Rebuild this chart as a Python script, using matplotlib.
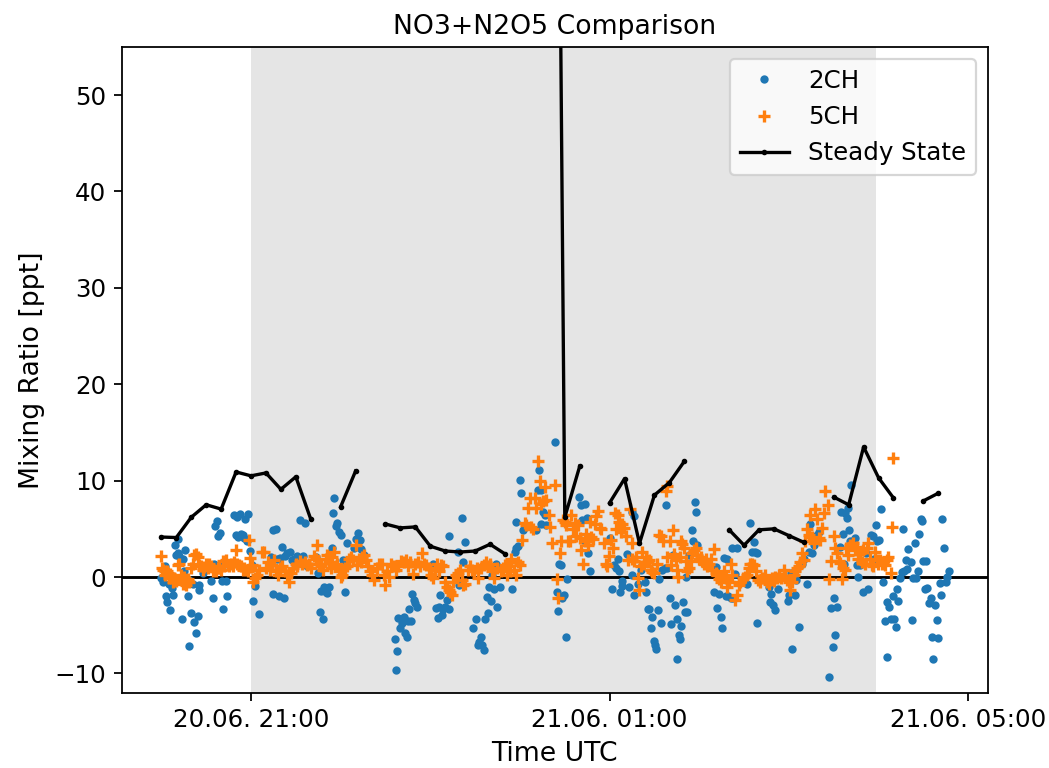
import numpy as np
import pandas as pd
import matplotlib
matplotlib.use("Agg")
import matplotlib.pyplot as plt
import matplotlib.dates as mdates

t0 = pd.Timestamp("2021-06-20 20:00")

# 2CH: minutes after 20:00 UTC, mixing ratio [ppt]
t_2ch = [-0.2, 0.9, 2.1, 3.2, 3.8, 5.0, 5.8, 7.2, 8.1, 9.2, 9.9, 11.0, 11.2, 12.1, 13.2, 13.9, 14.3, 15.4, 16.1, 17.0,
         18.1, 18.8, 18.8, 19.9, 21.0, 22.1, 23.2, 24.3, 25.0, 25.4, 27.7, 33.2, 34.4, 35.0, 36.1, 37.0, 37.7, 39.3, 40.6, 41.0,
         41.5, 43.3, 43.9, 48.8, 50.0, 50.4, 51.5, 52.6, 53.3, 54.4, 55.1, 56.0, 57.1, 57.8, 59.3, 60.7, 61.5, 62.9, 65.1,
         73.6, 74.9, 76.5, 74.9, 77.6, 78.7, 79.4, 81.0, 82.1, 82.5, 84.3, 86.1, 87.6, 88.8, 91.0, 92.8, 93.2, 95.0, 95.9, 97.2,
         103.2, 104.8, 106.1, 107.0, 107.9, 108.8, 109.9, 111.0, 112.1, 113.9, 114.8, 115.5, 116.6, 117.7, 118.8, 119.9, 121.7,
         122.6, 124.0, 128.9, 130.0, 131.5, 132.9, 133.8, 135.5,
         156.1, 157.0, 157.6, 158.7, 159.9, 161.0, 162.1, 162.8, 164.3, 165.4, 165.9, 167.2, 167.7, 168.8, 169.9, 171.0,
         182.1, 183.7, 185.0, 185.9, 186.8, 187.7, 188.8, 189.9, 191.0, 192.2, 192.8, 198.8, 199.3, 201.1, 201.7, 202.9,
         208.9, 210.4, 211.8, 212.7, 213.8, 214.4, 215.6, 216.7, 217.8, 218.9, 219.3, 220.7, 221.6, 222.9, 223.8, 224.5,
         226.5, 235.0, 236.5, 237.6, 238.8, 237.6, 239.9, 241.0, 242.1, 251.0, 252.8, 252.1, 254.4, 255.5, 256.6, 254.4, 257.7,
         263.3, 266.2, 267.7, 264.8, 269.3, 268.4, 265.7, 270.6, 271.7, 279.5, 281.1, 283.3, 281.8, 284.9, 283.3, 285.5, 287.1,
         300.0, 301.8, 302.7, 304.0,
         305.3, 306.4, 307.1, 308.0, 308.6, 311.5, 313.1, 314.7, 316.4, 315.3, 316.4, 318.7, 320.9, 322.0, 323.6, 324.2, 325.4,
         326.5, 327.6, 328.7, 329.4, 330.3, 330.9, 332.5, 333.2, 334.3, 335.4, 336.9, 337.6, 338.7, 340.5, 341.4, 342.7, 343.6,
         345.0, 345.4, 346.5, 347.2, 348.1, 349.4, 350.3, 351.0, 351.6, 353.2, 355.4, 356.1, 357.2, 358.1, 358.8,
         369.9, 371.0, 372.1, 373.3, 374.4, 375.5, 376.6, 377.7, 378.8, 379.3, 381.1, 382.2, 382.8,
         384.2, 385.3, 392.0, 394.2, 395.3, 396.5, 397.6, 398.7, 398.7, 406.5, 407.6, 408.3, 409.2, 410.5, 412.7, 419.4, 420.3,
         421.6, 422.1, 423.9, 424.8, 426.5, 428.8, 429.9, 432.1, 433.2, 434.3, 435.4, 436.6, 437.7, 438.8, 439.9,
         447.0, 448.4, 449.3, 450.1, 451.0, 452.2, 454.4, 455.1, 455.9, 456.6, 457.7, 458.8, 459.5, 460.4, 461.1, 461.7,
         464.2, 465.3, 466.4, 467.6, 469.3, 471.6, 473.1, 474.7, 476.0, 476.9, 478.3, 479.1, 480.5, 481.4, 483.2, 484.3, 485.4,
         485.8, 487.2, 488.1, 489.4, 490.3, 491.6, 492.5, 493.2, 494.3, 495.4, 496.5, 497.0, 498.3, 499.2, 499.9, 501.4, 502.1,
         503.2, 504.3, 505.0, 506.5, 507.2, 508.1, 509.4, 509.9, 511.0, 511.7, 512.6, 513.9, 514.8, 516.1, 516.6, 517.7, 518.8,
         519.9, 521.0, 522.1, 522.8, 523.7, 525.0, 525.9, 527.0]
v_2ch = [-0.1, -0.5, 1.1, -2.0, -2.6, -0.7, -3.4, -1.1, -1.9, 3.3, 2.3, 3.9, 2.5, 2.2, 1.9, -4.3, 1.9, 0.6, 2.8, -0.3,
         -2.0, -7.2, -0.3, -3.7, -0.7, -4.7, -5.8, -4.0, -1.3, -0.8, 0.4, -0.4, -2.2, 1.4, 5.3, 5.8, 4.3, 4.6, -0.4, -3.3,
         1.3, -0.4, -2.0, 6.4, 4.4, 6.2, 4.2, 6.5, 4.5, 4.4, 4.0, 6.0, 3.7, 6.5, 2.7, 1.3, -2.5, -0.9, -3.8,
         2.1, 4.9, 5.0, -1.8, 1.9, -2.0, 2.0, 3.1, -2.2, 2.2, 2.5, 2.6, 1.8, 1.9, 2.2, 5.9, 2.0, 2.2, 5.6, 1.1,
         2.1, 0.4, -3.6, -1.4, -4.3, -1.0, -1.5, -1.7, -1.0, 3.0, 6.6, 8.2, 5.3, 5.6, 4.7, 4.4, 1.8,
         -1.5, 3.5, 3.0, 3.9, 4.6, 3.8, 2.9, 2.3,
         -6.4, -9.6, -7.7, -4.2, -5.3, -4.8, -4.1, -5.8, -6.2, -4.6, -3.3, -4.6, -1.8, -2.4, -2.7, -3.1,
         1.4, -3.2, -4.2, -3.1, -1.9, -3.9, -3.3, -3.1, -2.4, -3.3, 4.3, 2.6, -0.8, 6.1, 1.6, 3.6,
         -5.3, -4.4, -7.0, -6.7, -6.2, -7.1, -7.6, -4.3, -2.1, -3.7, -1.0, -2.5, 0.2, -1.2, 1.4, -3.1,
         -1.0, -1.2, 2.6, 3.0, 3.2, 5.7, 10.1, 8.7, 4.9, 4.9, 11.1, 9.0, 9.0, 6.8, 6.4, 5.5, 5.4,
         14.0, 1.4, 1.2, -1.5, -1.9, -2.2, -3.5, -6.2, -0.2, 8.3, 7.5, 7.6, 5.9, 6.1, 3.7, 2.5, 0.6,
         4.1, -1.2, 1.3, 0.9,
         1.9, 0.6, -1.6, -0.4, -0.9, 2.4, -1.0, 6.8, 6.3, 0.2, -1.9, -0.7, 0.7, 1.2, -0.5, -1.6, -3.3,
         -3.3, -5.3, -4.1, -6.6, -7.0, -7.5, -3.4, -0.2, -4.8, 0.7, 0.9, 7.5, 0.9, -2.2, -4.9, 2.3, -2.9,
         -4.4, -8.5, -6.0, -6.4, -5.1, -2.6, -3.6, 0.0, -3.6, 2.3, 4.9, 3.7, 7.8, 6.7, 3.3,
         -1.6, 1.0, -3.2, -1.8, -4.1, -5.3, 2.0, -2.0, 1.9, -2.0, -2.2, 3.0, -2.2,
         0.3, 3.0, -0.7, 5.6, 2.6, 3.6, 2.6, 2.5, -4.8, -1.0, -2.6, -1.8, -2.9, -3.4, -1.2, -2.5, -1.9,
         0.4, -7.5, -1.9, -0.3, -5.2, 1.4, 1.9, -0.7, 2.6, 5.5, 2.5, 3.3, 4.2, 4.4, 4.7,
         -10.4, -3.2, -7.3, -2.2, -6.0, -3.1, 3.1, 6.7, 4.5, 1.4, 6.6, 6.1, 7.2, 4.9, 3.7, 9.5,
         4.0, 1.2, 0.0, 1.2, -1.5, 2.5, -1.2, 4.4, 4.3, 1.9, 5.4, 3.7, 3.8, 7.1, -0.5, -4.6, -8.3,
         -2.6, -3.1, -4.4, -2.0, -4.3, -5.2, -1.2, -2.5, -0.1, 0.5, 5.0, 0.6, 1.8, 0.8, 2.9, 1.6, -4.5,
         -0.1, 3.5, -0.1, 0.6, 4.5, 6.0, 5.8, 1.7, -1.2, 1.7, -1.1, -2.7, -2.2, -6.2, -8.5, -2.9, -4.5,
         -6.3, -0.6, -1.9, 6.0, 3.0, -0.5, 0.0, 0.6]

# 5CH
t_5ch = [-0.2, 0.5, 1.4, 2.1, 2.7, 3.6, 4.3, 5.0, 5.8, 6.5, 7.6, 8.7, 9.9, 11.0, 12.1, 13.2, 14.3, 15.4, 16.5, 17.7,
         18.8, 19.9, 21.0, 22.1, 23.2, 24.3, 25.4, 26.6, 27.7, 28.8, 29.9, 31.0, 32.1, 33.2, 34.4, 35.5, 36.6, 37.7, 38.8,
         39.9, 41.0, 42.2, 43.3, 44.4, 45.5, 46.6, 47.7, 48.8, 50.0, 50.4, 51.7, 53.3, 54.4, 55.5, 56.6, 57.8, 58.9, 59.3,
         60.0, 60.7, 61.5, 62.9, 63.8, 65.6, 67.3,
         68.7, 69.8, 71.4, 72.7, 74.3, 75.4, 76.5, 78.1, 79.4, 81.0, 82.5, 84.3, 85.4, 86.5, 88.3, 89.9, 91.0, 92.8, 94.3,
         95.9, 97.2, 98.8, 100.3, 102.1, 103.2, 104.3, 105.5, 107.0, 108.4, 109.9, 111.0, 112.1, 113.3, 114.4, 115.5, 116.6,
         117.7, 118.8, 119.9, 121.1, 122.6, 124.0, 125.5, 127.1, 128.4, 130.0, 131.1, 132.2, 133.3, 134.4, 135.5, 136.7,
         138.2, 139.6, 141.1, 142.2, 144.0, 145.6,
         147.6, 148.7, 149.8, 150.9, 152.1, 153.8, 155.4, 157.0, 158.7, 160.5, 162.1, 163.6, 165.0, 166.5, 168.1, 169.9,
         171.7, 173.2, 174.3, 175.5, 177.0, 178.8, 180.6, 182.1, 183.2, 184.4, 185.9, 187.3, 188.8, 189.9, 191.0, 192.2,
         193.3, 194.4, 195.5, 197.1, 198.4, 200.0, 201.1, 202.2, 203.3, 205.1, 206.6, 207.8, 209.5, 211.1, 212.2, 214.0,
         215.6, 217.1, 218.5, 220.0, 221.6, 222.9, 224.5,
         227.6, 228.7, 229.8, 231.0, 232.1, 233.2, 234.3, 235.9, 237.2, 238.8, 240.3, 241.7, 243.2, 244.3, 245.4, 246.6,
         247.7, 248.8, 249.9, 251.0, 252.1, 253.2, 254.4, 255.5, 256.6, 257.7, 259.5, 260.4, 261.7, 263.3, 264.8, 265.5,
         266.6, 267.7, 268.8, 269.9, 271.1, 272.2, 273.3, 274.4, 275.5, 276.6, 277.7, 278.9, 280.0, 281.1, 282.2, 283.3,
         284.4, 285.5, 286.7, 287.8, 288.9, 290.0, 291.1, 292.2, 293.3, 294.5, 296.0, 297.4, 298.2, 299.6, 301.1, 302.3,
         303.4, 304.0,
         305.3, 306.4, 307.5, 308.6, 309.8, 310.9, 312.0, 313.8, 314.7, 315.3, 316.4, 317.6, 318.7, 319.8, 320.9, 322.0,
         323.1, 324.2, 325.4, 326.5, 327.6, 328.7, 329.8, 332.0, 333.2, 334.3, 336.0, 337.6, 338.7, 338.7, 340.5, 341.4,
         342.1, 343.2, 344.3, 345.0, 345.8, 347.2, 348.1, 348.7, 349.9, 351.0, 352.1, 353.2, 354.3, 355.4, 356.5, 357.7,
         358.8, 359.9, 361.0, 362.1, 363.2, 364.3, 365.5, 366.6, 367.7, 368.8, 369.9, 371.0, 372.1, 373.3, 374.4, 375.5,
         376.6, 377.7, 378.8, 379.9, 381.1, 382.2,
         384.2, 385.3, 386.4, 387.5, 389.1, 390.4, 392.0, 393.1, 394.2, 395.3, 396.5, 398.0, 399.4, 400.9, 402.0, 403.8,
         405.4, 406.5, 407.6, 408.7, 409.8, 410.9, 412.0, 413.2, 414.9, 416.5, 417.6, 418.7, 420.3, 421.0, 422.1, 423.2,
         424.3, 425.4, 426.5, 427.6, 428.8, 429.9, 431.0, 432.1, 433.2, 434.3, 435.4, 436.6, 437.7, 438.8, 439.9, 441.0,
         442.1, 443.2, 444.4, 446.1, 447.0, 448.4, 449.9, 451.0, 452.2, 453.3, 454.4, 455.5, 456.0, 457.3, 458.2, 459.5,
         461.1,
         463.1, 464.2, 465.3, 466.4, 467.6, 468.7, 469.8, 470.9, 472.0, 473.1, 474.2, 475.4, 476.5, 477.6, 478.7, 479.8,
         480.9, 482.0, 483.2, 484.3, 485.4, 486.5, 488.1, 488.7, 489.8]
v_5ch = [2.2, 0.9, 0.7, 0.6, 0.2, 0.6, 0.4, -0.1, 0.3, -0.1, -0.5, -0.1, -0.4, 1.2, 1.4, 0.2, -0.7, 0.0, -0.8, -0.2,
         -0.5, 0.9, 1.4, 2.3, 2.4, 2.1, 1.2, 1.1, 0.7, 1.0, 1.4, 0.9, 1.4, 1.1, 0.6, 0.7, 0.6, 0.9, 0.9,
         0.7, 1.7, 1.1, 1.8, 1.3, 1.1, 1.4, 1.1, 1.6, 2.8, 1.4, 1.3, 1.1, 0.7, 0.9, 0.7, 0.6, 3.8, 2.0,
         1.0, 1.3, -0.5, -0.1, 0.2, 0.7, 2.6,
         2.6, 0.9, 1.6, 0.7, 1.3, 1.8, 0.6, 0.2, 0.9, 1.1, 0.6, 0.2, -0.5, 0.4, 0.9, 1.4, 1.1, 1.7, 1.4,
         1.6, 1.3, 1.4, 0.9, 2.2, 1.9, 3.3, 1.4, 1.1, 0.7, 1.9, 2.3, 1.6, 0.9, 2.1, 2.6, 1.1,
         1.4, 0.6, 0.0, 0.2, 0.9, 1.1, 1.9, 2.1, 1.8, 3.3, 1.3, 1.9, 1.6, 2.1, 2.3, 1.8,
         1.1, 0.6, 0.2, -0.3, 0.9, 1.4,
         1.4, 0.2, -0.8, 0.6, 0.0, 1.4, 1.1, 0.7, 1.1, 1.7, 1.6, 1.8, 1.1, 1.6, 0.3, 1.4,
         1.6, 1.1, 2.5, 1.4, 1.3, 0.9, 0.2, -0.1, 0.7, 1.4, 0.6, 1.3, 1.1, -0.5, -1.0, -1.3,
         -1.5, -1.9, -0.5, 0.2, 0.4, 0.7, -0.3, -0.8, -0.7, 0.7, 1.1, 0.7, 0.6, 0.9, -0.1, 0.9,
         1.2, 1.6, 1.1, 1.4, 0.6, -0.1, 0.9,
         0.6, 0.9, 1.2, 0.2, 1.1, 0.6, 1.9, 0.7, 0.2, 1.6, 1.2, 3.8, 5.6, 5.4, 7.2, 8.2,
         5.2, 5.0, 8.2, 7.2, 12.0, 10.0, 7.6, 7.9, 9.3, 8.0, 6.4, 5.2, 3.5, 9.5, -0.2, -2.2,
         2.5, 3.7, 5.9, 5.7, 5.4, 3.7, 3.7, 6.4, 5.0, 5.6, 4.3, 5.4, 4.0, 2.8, 1.4, 3.7,
         4.5, 3.3, 5.7, 4.2, 3.9, 5.5, 6.3, 6.9, 5.1, 5.0, 3.5, 1.4, 1.1, 2.2, 3.8, 3.0,
         6.6, 5.0,
         6.4, 5.7, 4.7, 5.5, 5.1, 4.3, 1.8, 7.1, 3.5, 1.9, 1.7, 2.1, -0.1, -1.3, 1.1, 2.6,
         1.4, 2.1, 1.6, 1.8, 0.7, 0.5, 0.4, 1.4, 4.4, 4.3, 3.7, 8.9, 9.4, 2.1, 3.7, 1.2,
         4.9, 2.4, 1.8, 0.7, 0.0, 2.1, 3.7, 3.4, 3.0, 1.7, 0.6, 0.9, 1.7, 2.5, 2.8, 3.0,
         2.3, 1.9, 2.1, 1.7, 1.4, 1.9, 1.1, 1.4, 1.9, 0.7, 2.9, 0.4, 0.2, -0.2, -0.5, 0.0,
         0.6, -0.1, -1.0, -0.5, 1.4, 0.2,
         -2.4, -1.9, -0.8, -0.5, -0.1, 0.0, 0.2, 0.9, 1.4, 1.4, 1.3, 0.6, -0.3, -0.5, -0.1, 0.2,
         -0.5, -0.7, -0.3, -0.1, -0.4, 0.0, -0.1, 0.2, -0.1, 0.7, 0.0, -0.3, -0.5, -1.3, -0.5, 0.2,
         0.6, 0.9, 1.1, 1.6, 2.5, 1.8, 3.7, 5.0, 4.4, 6.4, 4.2, 3.5, 7.1, 6.0, 4.0, 3.8,
         5.1, 6.6, 8.9, 7.5, -0.2, 1.7, 4.3, 3.0, 2.5, 1.7, 1.5, -0.2, 0.9, 0.7, 3.0, 2.3,
         3.3,
         3.5, 2.8, 3.1, 1.9, 2.5, 1.6, 2.8, 1.4, 3.0, 3.5, 1.9, 1.3, 1.1, 2.6, 1.8, 1.4,
         1.8, 1.4, 1.6, 1.2, 1.8, 2.1, 0.4, 5.2, 12.4]

# steady state, every 10 min from 20:00 to 04:40 (nan = no value)
nan = np.nan
v_ss = [4.15, 4.1, 6.2, 7.5, 7.05, 10.9, 10.5, 10.8, 9.1, 10.4, 6.0, nan, 7.3, 11.0, nan, 5.5, 5.1, 5.2,
        3.2, 2.7, 2.6, 2.7, 3.4, 2.4, nan, nan, 190.0, 6.2, 11.5, nan, 7.7, 10.2, 3.5, 8.5, 9.8, 12.0,
        nan, nan, 4.9, 3.3, 4.9, 5.0, 4.3, 3.6, nan, 8.3, 7.5, 13.5, 10.3, 8.2, nan, 7.9, 8.7]
t_ss = np.arange(len(v_ss)) * 10

night_start = "2021-06-20 21:00"
night_end = "2021-06-21 03:58"

time_2ch = t0 + pd.to_timedelta(t_2ch, unit="min")
time_5ch = t0 + pd.to_timedelta(t_5ch, unit="min")
time_ss = t0 + pd.to_timedelta(t_ss, unit="min")

fig, ax = plt.subplots(figsize=(1049/160, 768/160), dpi=160)
fig.subplots_adjust(left=0.116, right=0.942, top=0.939, bottom=0.098)

ax.axvspan(pd.Timestamp(night_start), pd.Timestamp(night_end), color="grey", alpha=0.2, lw=0, zorder=0)
ax.axhline(0, color="k", lw=1.3, zorder=1)
ax.plot(time_2ch, v_2ch, ".", color="C0", markersize=5.5, label="2CH", zorder=2)
ax.plot(time_5ch, v_5ch, "+", color="C1", markersize=5, mew=1.5, label="5CH", zorder=3)
ax.plot(time_ss, v_ss, ".-", color="k", markersize=3, lw=1.5, label="Steady State", zorder=4)

ax.set_ylim(-12, 55)
ax.xaxis.set_major_locator(mdates.HourLocator(byhour=[1, 5, 9, 13, 17, 21]))
ax.xaxis.set_major_formatter(mdates.DateFormatter("%d.%m. %H:%M"))
ax.tick_params(labelsize=11)
ax.set_title("NO3+N2O5 Comparison", fontsize=12)
ax.set_xlabel("Time UTC", fontsize=12)
ax.set_ylabel("Mixing Ratio [ppt]", fontsize=12)
ax.legend(loc="upper right", fontsize=11)

fig.savefig("out.png", dpi=160)
